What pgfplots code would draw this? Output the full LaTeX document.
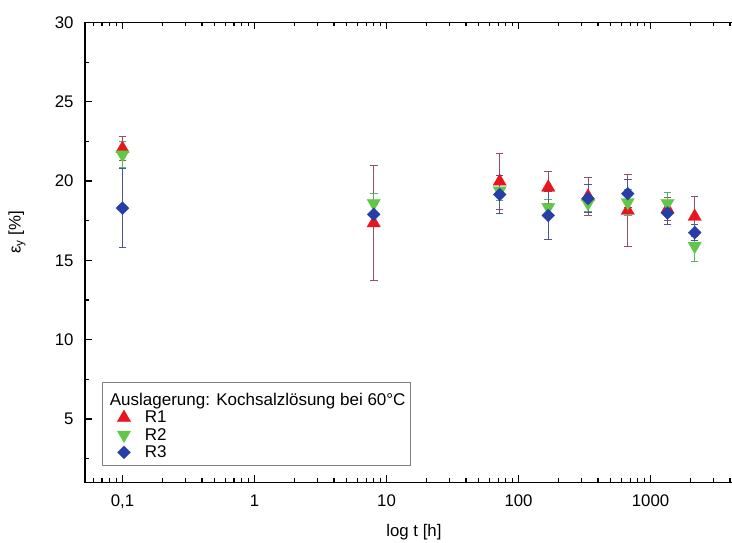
\documentclass[border=0pt]{standalone}
\usepackage{pgfplots}
\usepackage{pgfplotstable}
\pgfplotsset{compat=1.18}
\usepackage{fontspec}
\setmainfont{Liberation Sans}
\definecolor{cR}{RGB}{232,22,28}
\definecolor{cG}{RGB}{96,200,70}
\definecolor{cB}{RGB}{38,62,165}
\definecolor{eR}{RGB}{150,80,100}
\definecolor{eG}{RGB}{90,175,110}
\definecolor{eB}{RGB}{75,85,155}

\pgfplotstableread{
x y e
0.1 22.05 0.75
8 17.35 3.6
72 19.97 1.75
168 19.6 1.0
336 19.03 1.2
672 18.14 2.27
1344 18.23 0.7
2160 17.76 1.27
}\dataR
\pgfplotstableread{
x y e
0.1 21.66 0.8
8 18.6 0.6
72 19.4 0.6
168 18.35 0.5
336 18.6 0.5
672 18.65 0.8
1344 18.6 0.7
2160 15.9 1.0
}\dataG
\pgfplotstableread{
x y e
0.1 18.29 2.5
8 17.9 0.6
72 19.15 1.2
168 17.83 1.5
336 18.9 0.9
672 19.2 0.9
1344 17.98 0.7
2160 16.75 0.5
}\dataB

\begin{document}
\begin{tikzpicture}[font=\fontsize{16.8bp}{19bp}\selectfont]
\begin{axis}[
  at={(85bp,60.6bp)}, anchor=south west,
  scale only axis, width=657.8bp, height=460bp,
  xmode=log, xmin=0.052, xmax=5000, ymin=1, ymax=30,
  xtick={0.1,1,10,100,1000}, xticklabels={{0,1},1,10,100,1000},
  minor xtick={0.06,0.07,0.08,0.09,0.2,0.3,0.4,0.5,0.6,0.7,0.8,0.9,2,3,4,5,6,7,8,9,20,30,40,50,60,70,80,90,200,300,400,500,600,700,800,900,2000,3000,4000},
  ytick={5,10,15,20,25,30},
  minor ytick={2.5,7.5,12.5,17.5,22.5,27.5},
  tick align=inside,
  major tick length=7bp, minor tick length=4bp,
  every tick/.style={black, line width=1.1bp},
  axis line style={line width=1.3bp},
  /pgf/number format/assume math mode=true,
  tick label style={font=\fontsize{16.8bp}{19bp}\selectfont},
  yticklabel style={xshift=-8bp},
  xticklabel style={yshift=-9bp},
  xlabel={log t [h]},
  ylabel={ε\textsubscript{y} [\%]},
  every axis x label/.style={at={(rel axis cs:0.5,0)}, anchor=center, yshift=-49.6bp, font=\fontsize{16.8bp}{19bp}\selectfont},
  every axis y label/.style={at={(rel axis cs:0,0.5)}, xshift=-68bp, yshift=20bp, anchor=center, rotate=90, font=\fontsize{16.8bp}{19bp}\selectfont},
  legend style={at={(0.0254,0.036)}, anchor=south west, draw=gray, line width=0.8bp, fill=white,
    font=\fontsize{17bp}{17bp}\selectfont, row sep=0bp, inner ysep=4.5bp},
  legend cell align=left,
  legend image code/.code={\path (0bp,0bp) (37bp,0bp); \draw[mark repeat=2,mark phase=2,#1] plot coordinates {(0bp,0bp)(18.5bp,0bp)(37bp,0bp)};},
]
\addlegendimage{empty legend}
\addlegendentry{\rule{0pt}{17bp}\hspace*{-35bp}Auslagerung: Kochsalzlösung bei 60°C}

\addplot[only marks, color=cR, mark=triangle*, mark size=7.8bp,
  mark options={fill=cR, draw=cR, line width=0.2bp},
  error bars/.cd, y dir=both, y explicit,
  error bar style={eR, line width=1bp},
  error mark options={eR, line width=1bp, mark size=3.8bp, rotate=90}]
  table[x=x, y=y, y error=e]{\dataR};
\addlegendentry{R1}

\addplot[only marks, color=cG, mark=triangle*, mark size=7.8bp,
  mark options={fill=cG, draw=cG, line width=0.2bp, rotate=180},
  error bars/.cd, y dir=both, y explicit,
  error bar style={eG, line width=1bp},
  error mark options={eG, line width=1bp, mark size=3.8bp, rotate=90}]
  table[x=x, y=y, y error=e]{\dataG};
\addlegendentry{R2}

\addplot[only marks, color=cB, mark=square*, mark size=4.6bp,
  mark options={fill=cB, draw=cB, line width=0.2bp, rotate=45},
  error bars/.cd, y dir=both, y explicit,
  error bar style={eB, line width=1bp},
  error mark options={eB, line width=1bp, mark size=3.8bp, rotate=90}]
  table[x=x, y=y, y error=e]{\dataB};
\addlegendentry{R3}
\end{axis}
\pgfresetboundingbox
\path[use as bounding box] (0,0) rectangle (732bp,543bp);
\end{tikzpicture}
\end{document}
